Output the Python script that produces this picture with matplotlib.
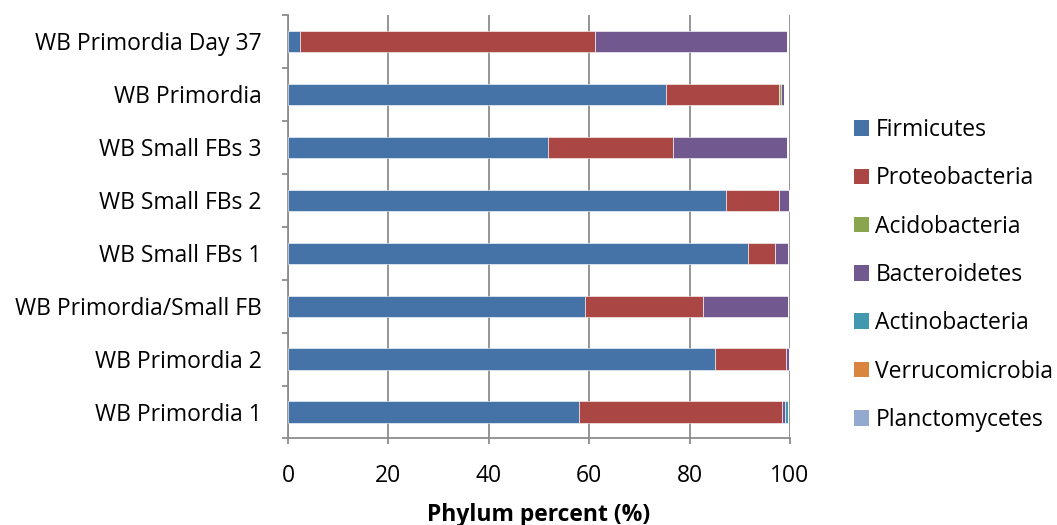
import numpy as np
import matplotlib.pyplot as plt
from matplotlib.patches import Patch

# ==========================================
# DATA
# ==========================================
samples = ["WB Primordia 1", "WB Primordia 2", "WB Primordia/Small FB",
           "WB Small FBs 1", "WB Small FBs 2", "WB Small FBs 3",
           "WB Primordia", "WB Primordia Day 37"]

phyla = ["Firmicutes", "Proteobacteria", "Acidobacteria", "Bacteroidetes",
         "Actinobacteria", "Verrucomicrobia", "Planctomycetes"]

firmicutes      = [57.9, 85.1, 59.1, 91.7, 87.3, 51.7, 75.2, 2.3]
proteobacteria  = [40.5, 14.1, 23.5, 5.3, 10.5, 24.9, 22.6, 58.8]
acidobacteria   = [0.0, 0.0, 0.0, 0.0, 0.0, 0.0, 0.4, 0.0]
bacteroidetes   = [0.7, 0.7, 17.1, 2.7, 2.0, 22.9, 0.7, 38.3]
actinobacteria  = [0.6, 0.0, 0.0, 0.0, 0.0, 0.0, 0.0, 0.0]
verrucomicrobia = [0.0, 0.0, 0.0, 0.0, 0.0, 0.0, 0.0, 0.0]
planctomycetes  = [0.0, 0.0, 0.0, 0.0, 0.0, 0.0, 0.0, 0.0]

series = [firmicutes, proteobacteria, acidobacteria, bacteroidetes,
          actinobacteria, verrucomicrobia, planctomycetes]
colors = ["#4572A7", "#AA4643", "#89A54E", "#71588F",
          "#4198AF", "#DB843D", "#93A9CF"]

plt.rcParams['font.family'] = ['Open Sans', 'DejaVu Sans']
FS = 16.5
AXIS_GRAY = "#8c8c8c"

fig = plt.figure(figsize=(10.57, 5.25), dpi=100)
ax = fig.add_axes([0.2725, 0.1648, 0.4749, 0.8067])

y = np.arange(len(samples))
left = np.zeros(len(samples))
for vals, col, name in zip(series, colors, phyla):
    vals = np.array(vals)
    ax.barh(y, vals, left=left, height=0.4, color=col, label=name,
            edgecolor="white", linewidth=0.4, zorder=3)
    left += vals

ax.set_xlim(0, 100)
ax.set_ylim(-0.5, len(samples) - 0.5)
ax.set_xticks(range(0, 101, 20))
ax.xaxis.grid(True, color=AXIS_GRAY, linewidth=1.3, zorder=0)

ax.set_yticks(y)
ax.set_yticklabels(samples, fontsize=FS)
ax.set_yticks(np.arange(-0.5, len(samples)), minor=True)
ax.tick_params(axis="y", which="major", length=0, pad=19)
ax.tick_params(axis="y", which="minor", length=4, width=1.3,
               color=AXIS_GRAY, direction="out")
ax.tick_params(axis="x", length=4, width=1.3, color=AXIS_GRAY,
               direction="out", labelsize=FS, pad=14.5)

for side in ["top", "right"]:
    ax.spines[side].set_visible(False)
for side in ["left", "bottom"]:
    ax.spines[side].set_color(AXIS_GRAY)
    ax.spines[side].set_linewidth(1.3)

ax.set_xlabel("Phylum percent (%)", fontsize=FS, fontweight="bold", labelpad=10.5)

handles = [Patch(facecolor=c, label=n) for c, n in zip(colors, phyla)]
fig.legend(handles=handles, loc="upper left", bbox_to_anchor=(0.808, 0.775),
           frameon=False, fontsize=FS, handlelength=0.67, handleheight=0.67,
           handletextpad=0.26, labelspacing=1.06, borderaxespad=0, borderpad=0)

fig.savefig("out.png", dpi=100)
